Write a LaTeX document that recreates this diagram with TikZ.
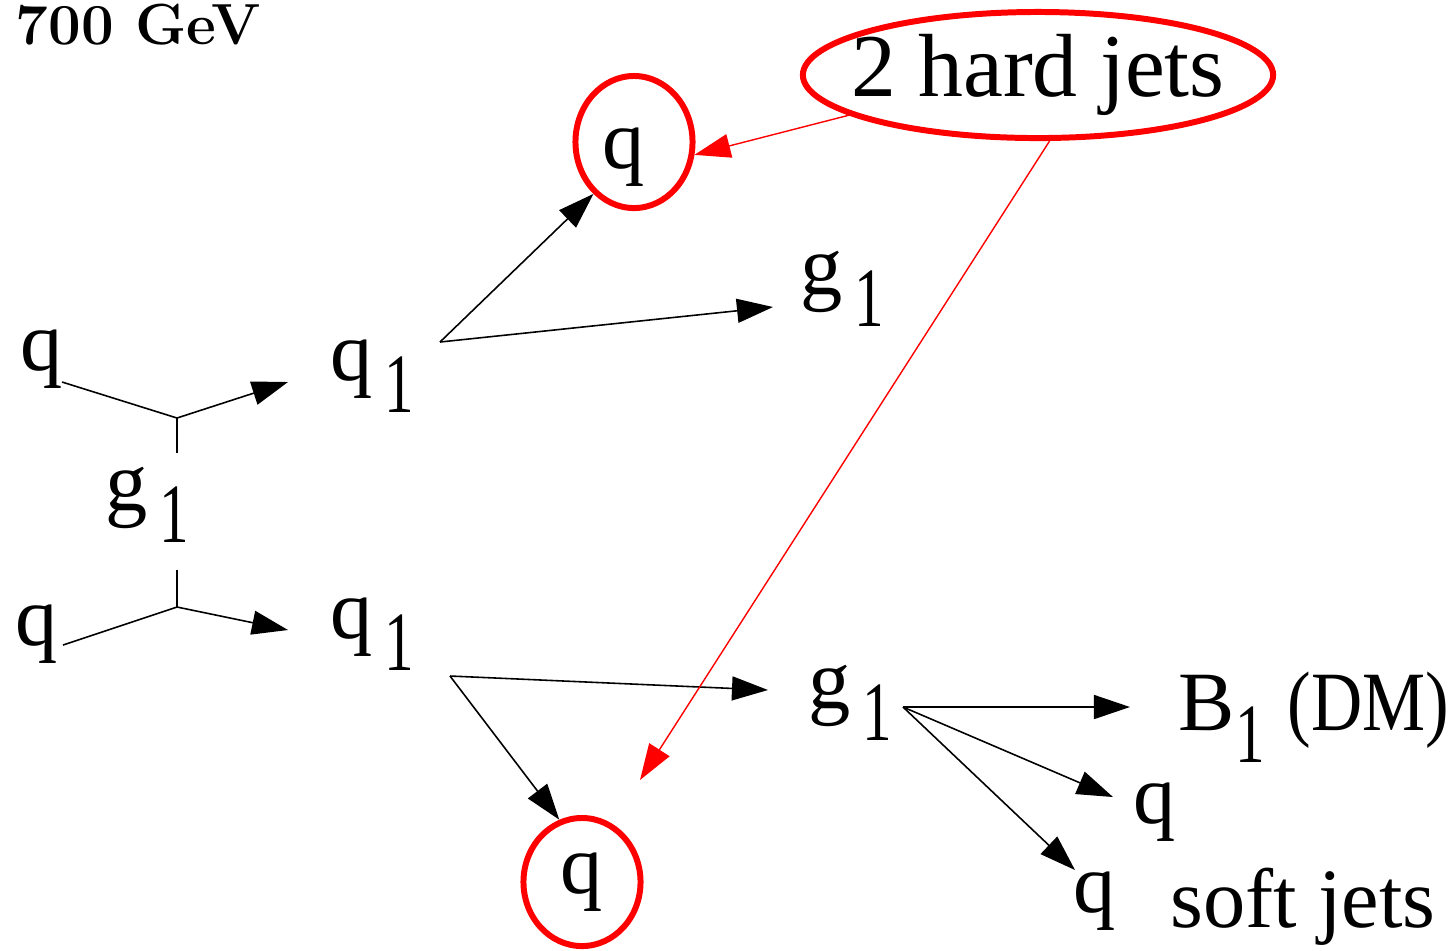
\documentclass[tikz,border=0pt]{standalone}
\usepackage{fontspec}
\usepackage{tikz}
\usetikzlibrary{arrows.meta, shapes.geometric}
\newfontfamily\diagfont{Liberation Serif}
\newcommand{\kk}[2][0.12cm]{#2\kern#1\raisebox{-0.32cm}{\scalebox{0.7}[1]{1}}}

\begin{document}
\begin{tikzpicture}[
    x=0.01cm, y=-0.01cm,
    >={Triangle[length=0.36cm, width=0.24cm]},
    lbl/.style={anchor=base west, inner sep=0pt,
                font=\diagfont\fontsize{24}{28}\selectfont},
    jet/.style={draw=red, line width=1.7pt, ellipse, inner sep=0pt,
                font=\diagfont\fontsize{24}{28}\selectfont},
    prop/.style={line width=0.45pt},
    arr/.style={->, line width=0.45pt},
    rarr/.style={->, red, line width=0.4pt}
]

\useasboundingbox (0,0) rectangle (1451,950);

\node[anchor=base west, inner sep=0pt, font=\bfseries\fontsize{16.5}{19}\selectfont]
  (gev) at (15,44) {700 GeV};

\node[lbl] (qa) at (20,370) {q};
\node[lbl] (qb) at (15,645) {q};
\node[lbl] (gmid) at (105,510) {\kk{g}};
\node[lbl] (qup) at (330,380) {\kk{q}};
\node[lbl] (qdn) at (330,638) {\kk{q}};
\node[lbl] (gup) at (800,294) {\kk{g}};
\node[lbl] (gdn) at (808,708) {\kk{g}};
\node[lbl] (bdm) at (1178,730) {\kk[0cm]{B}\kern0.23cm\scalebox{0.84}[1]{(DM)}};
\node[lbl] (qr) at (1133,823) {q};
\node[lbl] (qs) at (1073,912) {q};
\node[lbl] (soft) at (1170,927) {soft jets};

\node[jet, minimum width=1.17cm, minimum height=1.32cm] (hqup) at (634,142)
  {\makebox[0pt]{\raisebox{-0.15cm}[\height][\depth]{q}\hspace{0.2cm}}};
\node[jet, minimum width=1.17cm, minimum height=1.28cm] (hqdn) at (582,882) {q};
\node[jet, minimum width=4.7cm, minimum height=1.26cm,
      font=\diagfont\fontsize{25.5}{30}\selectfont] (jets) at (1038,75)
  {\makebox[0pt]{2 hard jets}};

\coordinate (ina) at (62,382);
\coordinate (inb) at (63,645);
\coordinate (va) at (177,418);
\coordinate (vb) at (177,607);
\coordinate (gtop) at (177,453);
\coordinate (gbot) at (177,570);
\coordinate (ea) at (288,382);
\coordinate (eb) at (288,630);
\coordinate (sup) at (440,342);
\coordinate (sdn) at (450,676);
\coordinate (sg) at (903,707);
\coordinate (egup) at (773,307);
\coordinate (egdn) at (768,690);
\coordinate (eb1) at (1130,707);
\coordinate (eqr) at (1113,797);
\coordinate (eqs) at (1075,870);
\coordinate (ered) at (640,780);

\draw[prop] (ina) -- (va);
\draw[arr] (va) -- (ea);
\draw[prop] (inb) -- (vb);
\draw[arr] (vb) -- (eb);
\draw[prop] (va) -- (gtop);
\draw[prop] (gbot) -- (vb);

\draw[arr] (sup) -- (hqup.232);
\draw[arr] (sup) -- (egup);
\draw[arr] (sdn) -- (egdn);
\draw[arr] (sdn) -- (hqdn.110);

\draw[arr] (sg) -- (eb1);
\draw[arr] (sg) -- (eqr);
\draw[arr] (sg) -- (eqs);

\draw[rarr] (jets.192) -- (hqup.-12);
\draw[rarr] (jets.-80) -- (ered);

\end{tikzpicture}
\end{document}
